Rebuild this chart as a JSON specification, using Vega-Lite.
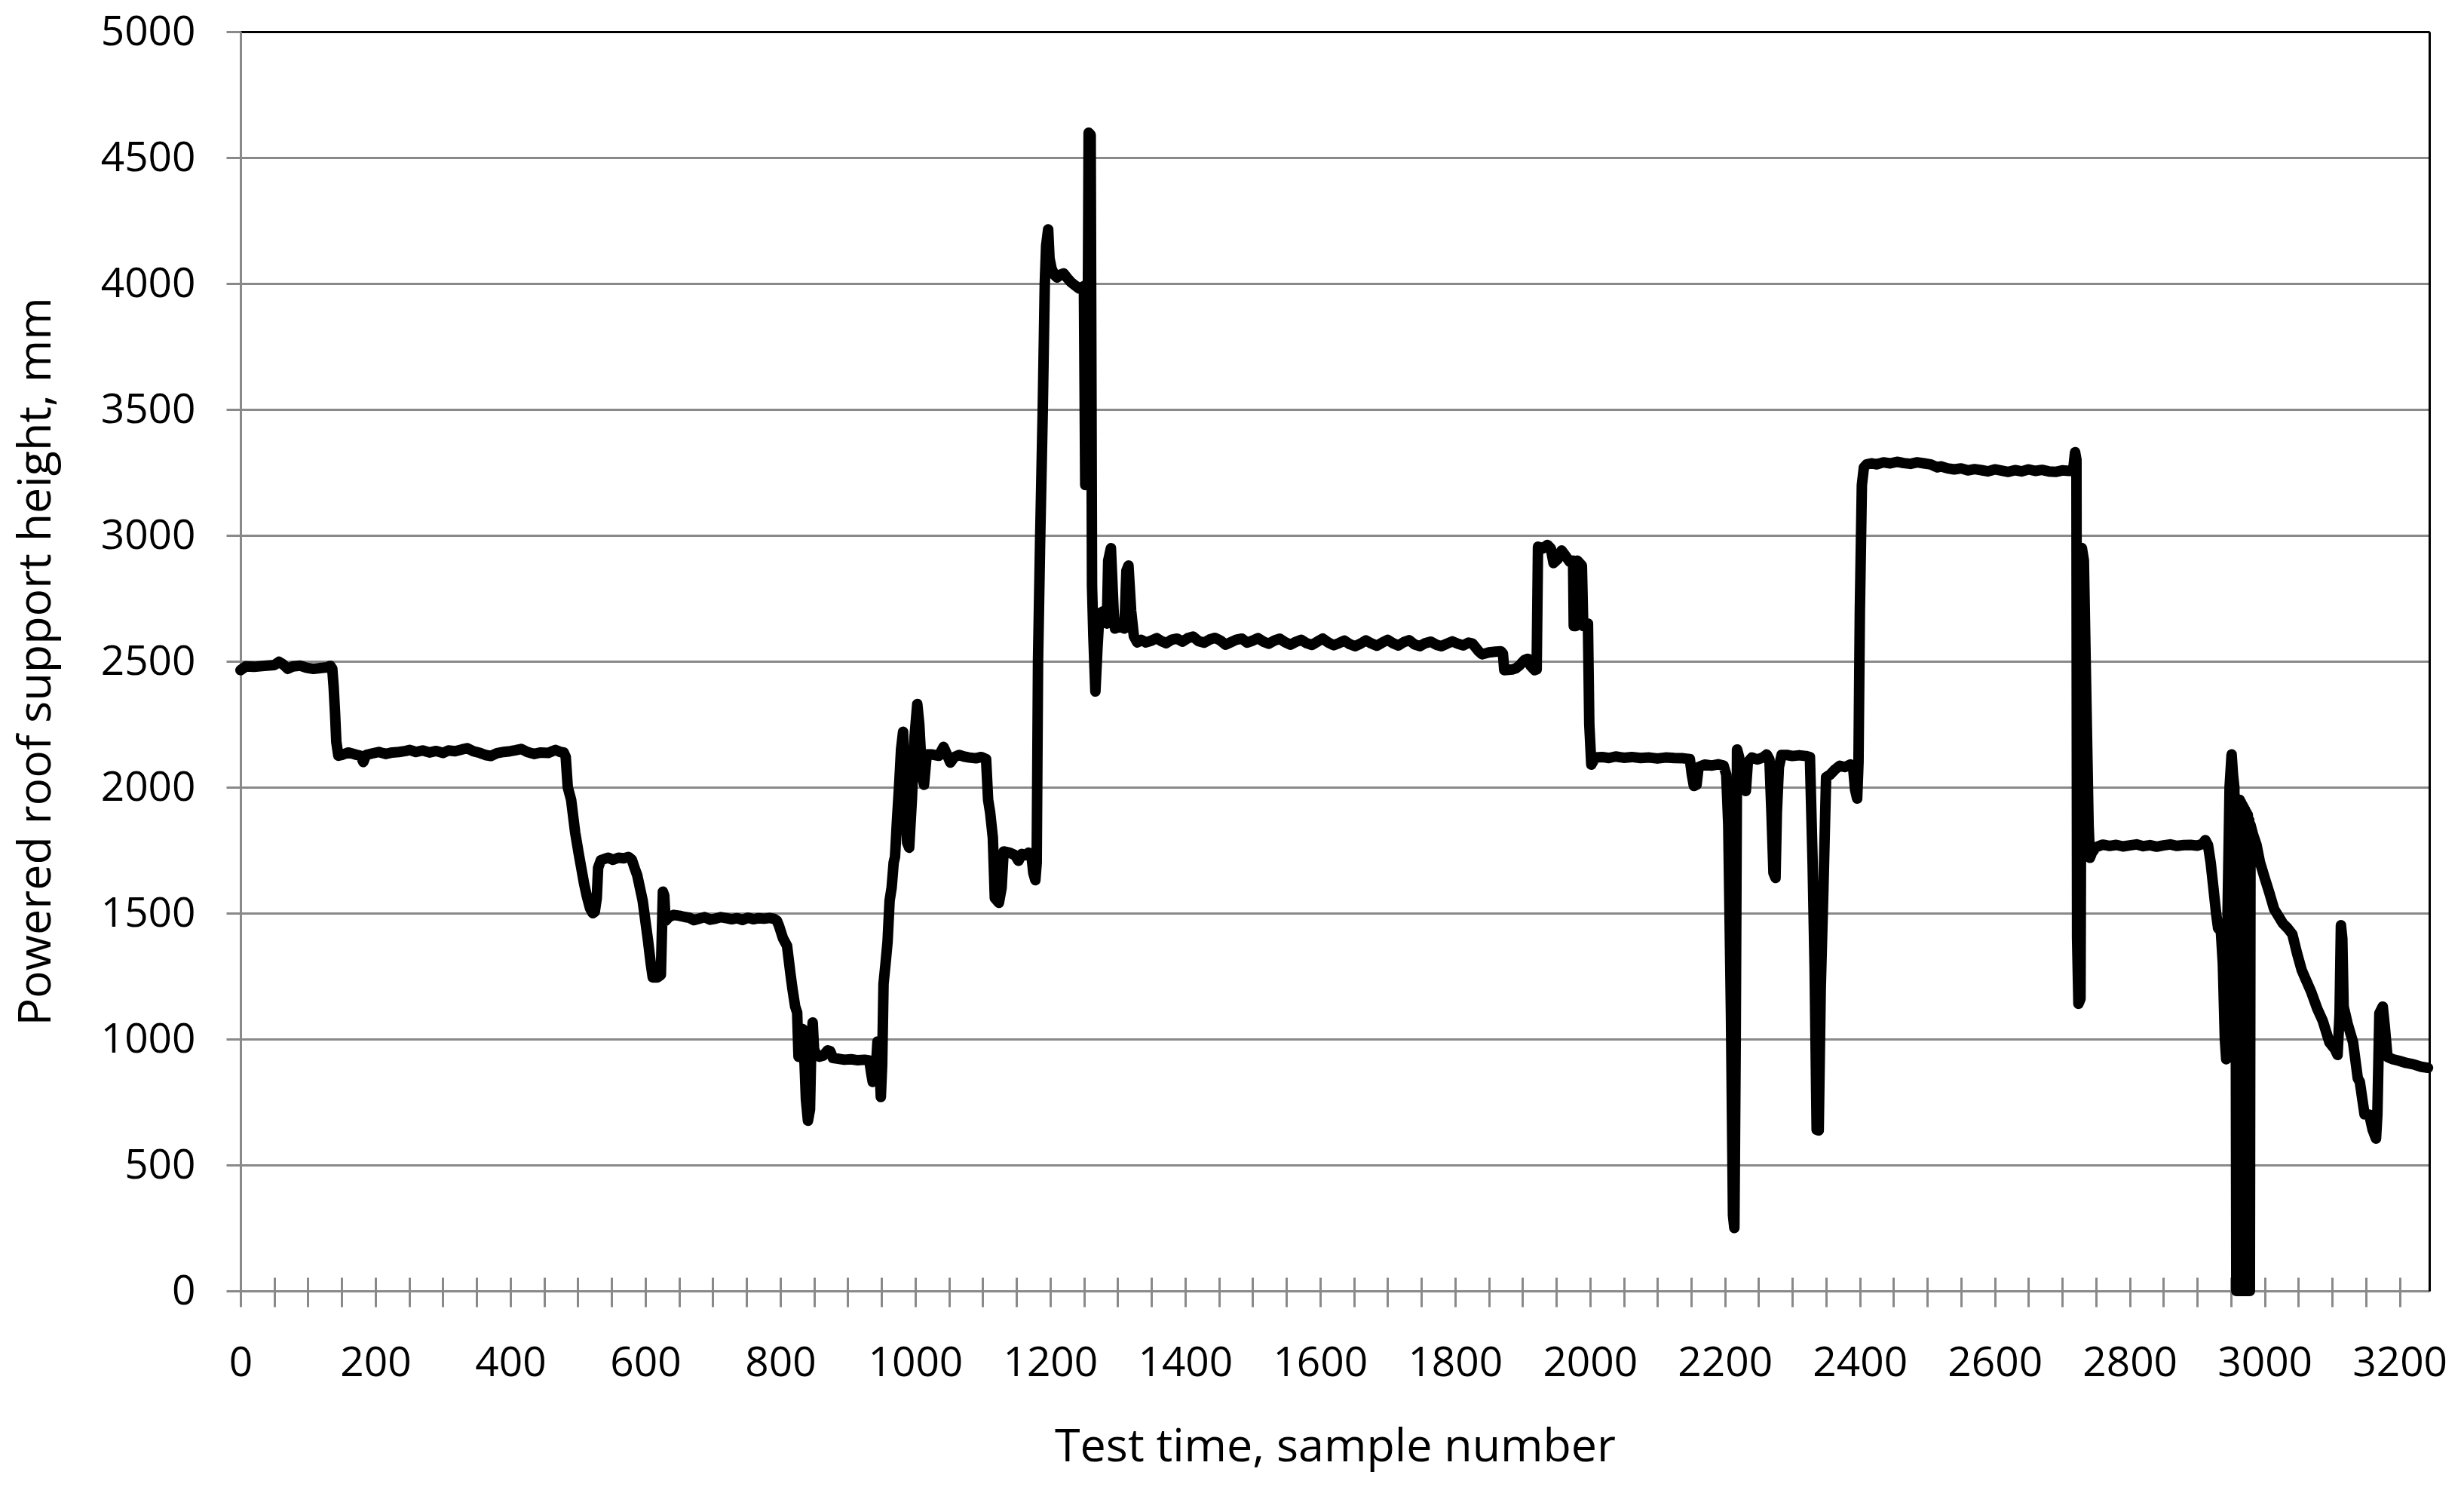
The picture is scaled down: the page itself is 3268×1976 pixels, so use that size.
{
  "$schema": "https://vega.github.io/schema/vega-lite/v6.json",
  "width": 2903,
  "height": 1670,
  "autosize": {"type": "none"},
  "padding": {"left": 319, "top": 42, "right": 46, "bottom": 264},
  "background": "white",
  "config": {"view": {"stroke": null}, "font": "Open Sans"},
  "data": {"values": [
    {"sample":0,"height":2465},{"sample":8,"height":2480},{"sample":20,"height":2478},{"sample":35,"height":2482},{"sample":50,"height":2485},{"sample":57,"height":2498},{"sample":63,"height":2488},{"sample":70,"height":2470},{"sample":78,"height":2480},{"sample":88,"height":2483},{"sample":98,"height":2474},{"sample":108,"height":2470},{"sample":118,"height":2473},{"sample":128,"height":2476},{"sample":133,"height":2482},{"sample":136,"height":2470},{"sample":138,"height":2400},{"sample":140,"height":2300},{"sample":142,"height":2180},{"sample":145,"height":2125},{"sample":150,"height":2128},{"sample":160,"height":2138},{"sample":170,"height":2130},{"sample":178,"height":2125},{"sample":182,"height":2100},{"sample":186,"height":2128},{"sample":195,"height":2134},{"sample":205,"height":2140},{"sample":215,"height":2132},{"sample":225,"height":2138},{"sample":235,"height":2140},{"sample":245,"height":2144},{"sample":251,"height":2148},{"sample":260,"height":2140},{"sample":270,"height":2146},{"sample":280,"height":2138},{"sample":290,"height":2144},{"sample":300,"height":2136},{"sample":308,"height":2146},{"sample":318,"height":2143},{"sample":328,"height":2150},{"sample":336,"height":2155},{"sample":345,"height":2143},{"sample":355,"height":2136},{"sample":363,"height":2128},{"sample":371,"height":2124},{"sample":380,"height":2135},{"sample":390,"height":2140},{"sample":400,"height":2143},{"sample":408,"height":2147},{"sample":416,"height":2152},{"sample":425,"height":2140},{"sample":435,"height":2132},{"sample":445,"height":2138},{"sample":456,"height":2136},{"sample":462,"height":2143},{"sample":467,"height":2148},{"sample":474,"height":2140},{"sample":479,"height":2138},
    {"sample":482,"height":2120},{"sample":485,"height":2000},{"sample":490,"height":1950},{"sample":496,"height":1820},{"sample":501,"height":1740},{"sample":505,"height":1680},{"sample":509,"height":1620},{"sample":513,"height":1570},{"sample":518,"height":1520},{"sample":522,"height":1500},{"sample":525,"height":1505},{"sample":528,"height":1560},{"sample":530,"height":1680},{"sample":534,"height":1710},{"sample":539,"height":1715},{"sample":545,"height":1720},{"sample":552,"height":1712},{"sample":560,"height":1720},{"sample":568,"height":1718},{"sample":575,"height":1723},{"sample":580,"height":1712},{"sample":584,"height":1680},{"sample":588,"height":1650},{"sample":592,"height":1600},{"sample":596,"height":1550},{"sample":600,"height":1470},{"sample":604,"height":1390},{"sample":608,"height":1300},{"sample":611,"height":1245},{"sample":618,"height":1245},{"sample":623,"height":1255},{"sample":626,"height":1585},{"sample":628,"height":1570},{"sample":630,"height":1470},{"sample":635,"height":1485},{"sample":642,"height":1493},{"sample":650,"height":1490},{"sample":658,"height":1485},{"sample":665,"height":1482},{"sample":672,"height":1472},{"sample":680,"height":1478},{"sample":688,"height":1484},{"sample":696,"height":1474},{"sample":704,"height":1478},{"sample":712,"height":1484},{"sample":720,"height":1480},{"sample":728,"height":1476},{"sample":736,"height":1480},{"sample":744,"height":1473},{"sample":752,"height":1482},{"sample":760,"height":1476},{"sample":768,"height":1480},{"sample":776,"height":1478},{"sample":784,"height":1481},{"sample":790,"height":1478},{"sample":795,"height":1470},
    {"sample":798,"height":1450},{"sample":804,"height":1400},{"sample":810,"height":1370},{"sample":815,"height":1260},{"sample":818,"height":1200},{"sample":822,"height":1130},{"sample":825,"height":1105},{"sample":827,"height":930},{"sample":830,"height":1020},{"sample":833,"height":1040},{"sample":836,"height":900},{"sample":838,"height":760},{"sample":841,"height":676},{"sample":844,"height":720},{"sample":846,"height":980},{"sample":848,"height":1066},{"sample":850,"height":960},{"sample":853,"height":940},{"sample":858,"height":930},{"sample":864,"height":935},{"sample":870,"height":955},{"sample":874,"height":952},{"sample":878,"height":925},{"sample":886,"height":922},{"sample":895,"height":918},{"sample":905,"height":920},{"sample":915,"height":916},{"sample":925,"height":918},{"sample":932,"height":915},{"sample":935,"height":860},{"sample":937,"height":830},{"sample":941,"height":850},{"sample":944,"height":990},{"sample":947,"height":900},{"sample":949,"height":770},{"sample":951,"height":900},{"sample":953,"height":1219},{"sample":956,"height":1300},{"sample":959,"height":1387},{"sample":962,"height":1550},{"sample":965,"height":1601},{"sample":968,"height":1700},{"sample":970,"height":1723},{"sample":973,"height":1870},{"sample":976,"height":2000},{"sample":979,"height":2150},{"sample":982,"height":2220},{"sample":985,"height":2000},{"sample":988,"height":1780},{"sample":991,"height":1760},{"sample":995,"height":1950},{"sample":999,"height":2200},{"sample":1003,"height":2330},{"sample":1006,"height":2250},{"sample":1010,"height":2050},{"sample":1013,"height":2010},{"sample":1017,"height":2130},{"sample":1025,"height":2130},{"sample":1035,"height":2125},{"sample":1042,"height":2160},{"sample":1047,"height":2130},{"sample":1052,"height":2098},{"sample":1058,"height":2120},{"sample":1065,"height":2128},{"sample":1072,"height":2122},{"sample":1080,"height":2118},{"sample":1090,"height":2115},{"sample":1098,"height":2120},{"sample":1105,"height":2112},{"sample":1108,"height":1950},{"sample":1111,"height":1900},{"sample":1115,"height":1800},{"sample":1118,"height":1560},{"sample":1124,"height":1541},{"sample":1128,"height":1600},{"sample":1131,"height":1745},{"sample":1140,"height":1740},{"sample":1148,"height":1730},{"sample":1153,"height":1708},{"sample":1158,"height":1735},{"sample":1163,"height":1730},{"sample":1168,"height":1740},{"sample":1172,"height":1735},{"sample":1175,"height":1660},{"sample":1178,"height":1631},{"sample":1180,"height":1700},{"sample":1182,"height":2500},{"sample":1185,"height":2965},{"sample":1189,"height":3500},{"sample":1192,"height":4000},{"sample":1194,"height":4150},{"sample":1197,"height":4215},{"sample":1199,"height":4100},{"sample":1202,"height":4060},{"sample":1206,"height":4035},{"sample":1210,"height":4024},{"sample":1215,"height":4035},{"sample":1220,"height":4040},{"sample":1226,"height":4020},{"sample":1231,"height":4005},{"sample":1237,"height":3992},{"sample":1243,"height":3980},{"sample":1247,"height":3985},{"sample":1250,"height":3990},{"sample":1252,"height":3200},{"sample":1255,"height":3400},{"sample":1257,"height":4599},{"sample":1260,"height":4590},{"sample":1262,"height":2800},{"sample":1264,"height":2600},{"sample":1267,"height":2380},{"sample":1270,"height":2550},{"sample":1273,"height":2690},{"sample":1280,"height":2700},{"sample":1284,"height":2650},{"sample":1286,"height":2900},{"sample":1290,"height":2949},{"sample":1294,"height":2700},{"sample":1296,"height":2630},{"sample":1305,"height":2640},{"sample":1310,"height":2630},{"sample":1313,"height":2860},{"sample":1316,"height":2880},{"sample":1320,"height":2700},{"sample":1324,"height":2600},{"sample":1329,"height":2575},
    {"sample":1335,"height":2585},{"sample":1342,"height":2575},{"sample":1350,"height":2582},{"sample":1358,"height":2592},{"sample":1365,"height":2580},{"sample":1372,"height":2572},{"sample":1380,"height":2586},{"sample":1388,"height":2590},{"sample":1396,"height":2578},{"sample":1404,"height":2592},{"sample":1412,"height":2598},{"sample":1420,"height":2580},{"sample":1428,"height":2574},{"sample":1436,"height":2586},{"sample":1444,"height":2593},{"sample":1452,"height":2583},{"sample":1460,"height":2566},{"sample":1468,"height":2576},{"sample":1476,"height":2586},{"sample":1484,"height":2590},{"sample":1492,"height":2574},{"sample":1500,"height":2582},{"sample":1508,"height":2592},{"sample":1516,"height":2578},{"sample":1524,"height":2570},{"sample":1532,"height":2582},{"sample":1540,"height":2590},{"sample":1548,"height":2576},{"sample":1556,"height":2566},{"sample":1564,"height":2577},{"sample":1572,"height":2585},{"sample":1580,"height":2572},{"sample":1588,"height":2565},{"sample":1596,"height":2578},{"sample":1604,"height":2590},{"sample":1612,"height":2575},{"sample":1620,"height":2564},{"sample":1628,"height":2572},{"sample":1636,"height":2582},{"sample":1644,"height":2568},{"sample":1652,"height":2560},{"sample":1660,"height":2570},{"sample":1668,"height":2583},{"sample":1676,"height":2571},{"sample":1684,"height":2562},{"sample":1692,"height":2574},{"sample":1700,"height":2585},{"sample":1708,"height":2572},{"sample":1716,"height":2563},{"sample":1724,"height":2576},{"sample":1732,"height":2584},{"sample":1740,"height":2567},{"sample":1748,"height":2560},{"sample":1756,"height":2572},{"sample":1764,"height":2578},{"sample":1772,"height":2566},{"sample":1780,"height":2560},{"sample":1788,"height":2570},{"sample":1796,"height":2579},{"sample":1804,"height":2570},{"sample":1812,"height":2563},{"sample":1820,"height":2574},{"sample":1826,"height":2570},{"sample":1835,"height":2540},{"sample":1840,"height":2528},{"sample":1850,"height":2535},{"sample":1860,"height":2538},{"sample":1868,"height":2540},{"sample":1871,"height":2530},{"sample":1873,"height":2465},{"sample":1885,"height":2468},{"sample":1890,"height":2472},{"sample":1895,"height":2482},{"sample":1903,"height":2505},{"sample":1908,"height":2510},{"sample":1912,"height":2482},{"sample":1918,"height":2465},{"sample":1921,"height":2468},{"sample":1923,"height":2955},{"sample":1930,"height":2948},{"sample":1937,"height":2962},{"sample":1942,"height":2948},{"sample":1946,"height":2890},{"sample":1952,"height":2905},{"sample":1958,"height":2940},{"sample":1964,"height":2918},{"sample":1970,"height":2895},{"sample":1975,"height":2900},{"sample":1976,"height":2640},{"sample":1979,"height":2640},{"sample":1981,"height":2900},{"sample":1988,"height":2880},{"sample":1990,"height":2640},{"sample":1997,"height":2650},{"sample":1999,"height":2250},{"sample":2002,"height":2090},
    {"sample":2008,"height":2118},{"sample":2018,"height":2120},{"sample":2028,"height":2116},{"sample":2038,"height":2122},{"sample":2050,"height":2117},{"sample":2062,"height":2120},{"sample":2075,"height":2116},{"sample":2088,"height":2118},{"sample":2100,"height":2114},{"sample":2112,"height":2118},{"sample":2125,"height":2116},{"sample":2138,"height":2115},{"sample":2148,"height":2112},{"sample":2151,"height":2050},{"sample":2154,"height":2005},{"sample":2158,"height":2010},{"sample":2161,"height":2080},{"sample":2170,"height":2090},{"sample":2180,"height":2086},{"sample":2190,"height":2091},{"sample":2198,"height":2086},{"sample":2202,"height":2050},{"sample":2205,"height":1850},{"sample":2209,"height":1100},{"sample":2212,"height":300},{"sample":2214,"height":250},{"sample":2216,"height":1000},{"sample":2218,"height":2150},{"sample":2221,"height":2120},{"sample":2226,"height":2000},{"sample":2231,"height":1985},{"sample":2234,"height":2100},{"sample":2240,"height":2118},{"sample":2248,"height":2110},{"sample":2256,"height":2118},{"sample":2262,"height":2130},{"sample":2266,"height":2110},{"sample":2269,"height":1900},{"sample":2272,"height":1660},{"sample":2275,"height":1640},{"sample":2277,"height":1900},{"sample":2280,"height":2080},{"sample":2284,"height":2128},{"sample":2292,"height":2128},{"sample":2300,"height":2124},{"sample":2310,"height":2127},{"sample":2320,"height":2124},{"sample":2326,"height":2120},{"sample":2330,"height":1700},{"sample":2333,"height":1280},{"sample":2336,"height":640},{"sample":2339,"height":637},{"sample":2342,"height":1200},{"sample":2346,"height":1600},{"sample":2350,"height":2040},{"sample":2356,"height":2050},{"sample":2363,"height":2070},{"sample":2370,"height":2085},{"sample":2378,"height":2080},{"sample":2386,"height":2090},{"sample":2390,"height":2080},{"sample":2393,"height":1990},{"sample":2396,"height":1955},{"sample":2398,"height":2100},{"sample":2400,"height":2700},{"sample":2403,"height":3200},{"sample":2406,"height":3270},
    {"sample":2410,"height":3282},{"sample":2418,"height":3286},{"sample":2425,"height":3282},{"sample":2435,"height":3290},{"sample":2445,"height":3286},{"sample":2455,"height":3292},{"sample":2465,"height":3287},{"sample":2475,"height":3284},{"sample":2485,"height":3290},{"sample":2495,"height":3286},{"sample":2505,"height":3282},{"sample":2515,"height":3270},{"sample":2520,"height":3274},{"sample":2530,"height":3266},{"sample":2540,"height":3262},{"sample":2550,"height":3266},{"sample":2560,"height":3258},{"sample":2570,"height":3263},{"sample":2580,"height":3259},{"sample":2590,"height":3254},{"sample":2600,"height":3262},{"sample":2610,"height":3257},{"sample":2620,"height":3252},{"sample":2630,"height":3259},{"sample":2640,"height":3254},{"sample":2650,"height":3262},{"sample":2660,"height":3256},{"sample":2670,"height":3260},{"sample":2680,"height":3254},{"sample":2690,"height":3252},{"sample":2700,"height":3258},{"sample":2710,"height":3256},{"sample":2716,"height":3256},{"sample":2719,"height":3330},{"sample":2721,"height":3300},{"sample":2722,"height":1400},{"sample":2724,"height":1140},{"sample":2727,"height":1160},{"sample":2729,"height":2950},{"sample":2732,"height":2900},{"sample":2736,"height":2300},{"sample":2739,"height":1850},{"sample":2741,"height":1720},{"sample":2744,"height":1740},{"sample":2750,"height":1762},{"sample":2760,"height":1772},{"sample":2770,"height":1767},{"sample":2780,"height":1771},{"sample":2790,"height":1765},{"sample":2800,"height":1769},{"sample":2810,"height":1773},{"sample":2820,"height":1766},{"sample":2830,"height":1770},{"sample":2840,"height":1764},{"sample":2850,"height":1769},{"sample":2860,"height":1773},{"sample":2870,"height":1767},{"sample":2880,"height":1770},{"sample":2890,"height":1771},{"sample":2900,"height":1768},{"sample":2908,"height":1775},{"sample":2912,"height":1790},{"sample":2916,"height":1770},{"sample":2920,"height":1700},{"sample":2924,"height":1600},{"sample":2928,"height":1500},{"sample":2931,"height":1440},{"sample":2935,"height":1430},{"sample":2938,"height":1300},{"sample":2941,"height":1000},{"sample":2943,"height":920},{"sample":2945,"height":1500},{"sample":2948,"height":2000},{"sample":2951,"height":2130},{"sample":2953,"height":2050},{"sample":2955,"height":2000},{"sample":2957,"height":1400},{"sample":2958,"height":0},{"sample":2959,"height":1950},{"sample":2960,"height":0},{"sample":2961,"height":1950},{"sample":2962,"height":0},{"sample":2963,"height":1950},{"sample":2964,"height":0},{"sample":2965,"height":1940},{"sample":2966,"height":0},{"sample":2967,"height":1930},{"sample":2968,"height":0},{"sample":2969,"height":1920},{"sample":2970,"height":0},{"sample":2971,"height":1910},{"sample":2972,"height":0},{"sample":2973,"height":1900},{"sample":2974,"height":0},{"sample":2975,"height":1890},{"sample":2976,"height":0},{"sample":2977,"height":1870},{"sample":2978,"height":0},{"sample":2979,"height":1850},{"sample":2980,"height":1840},{"sample":2983,"height":1810},{"sample":2988,"height":1770},{"sample":2993,"height":1702},{"sample":3000,"height":1640},{"sample":3007,"height":1580},{"sample":3014,"height":1516},{"sample":3020,"height":1490},{"sample":3027,"height":1459},{"sample":3034,"height":1440},{"sample":3041,"height":1416},{"sample":3048,"height":1340},{"sample":3055,"height":1273},{"sample":3062,"height":1230},{"sample":3069,"height":1187},{"sample":3078,"height":1120},{"sample":3086,"height":1073},{"sample":3096,"height":987},{"sample":3104,"height":960},{"sample":3108,"height":937},{"sample":3111,"height":1100},{"sample":3113,"height":1452},{"sample":3115,"height":1400},{"sample":3117,"height":1129},{"sample":3123,"height":1060},{"sample":3131,"height":987},{"sample":3138,"height":844},{"sample":3141,"height":830},{"sample":3148,"height":701},{"sample":3155,"height":700},{"sample":3160,"height":640},{"sample":3165,"height":605},{"sample":3167,"height":700},{"sample":3170,"height":1102},{"sample":3175,"height":1129},{"sample":3178,"height":1050},{"sample":3182,"height":929},{"sample":3190,"height":920},{"sample":3199,"height":914},{"sample":3210,"height":905},{"sample":3220,"height":900},{"sample":3232,"height":890},{"sample":3242,"height":886}
  ]},
  "layer": [
    {
      "mark": {"type": "line", "color": "black", "strokeWidth": 14, "strokeJoin": "round", "strokeCap": "round"},
      "encoding": {
        "x": {
          "field": "sample", "type": "quantitative",
          "scale": {"domain": [0, 3244], "nice": false, "zero": false},
          "axis": {
            "title": "Test time, sample number",
            "values": [0,50,100,150,200,250,300,350,400,450,500,550,600,650,700,750,800,850,900,950,1000,1050,1100,1150,1200,1250,1300,1350,1400,1450,1500,1550,1600,1650,1700,1750,1800,1850,1900,1950,2000,2050,2100,2150,2200,2250,2300,2350,2400,2450,2500,2550,2600,2650,2700,2750,2800,2850,2900,2950,3000,3050,3100,3150,3200],
            "format": "d",
            "labelExpr": "datum.value % 200 === 0 ? datum.label : ''",
            "grid": false,
            "domainColor": "#898989", "domainWidth": 3,
            "tickColor": "#898989", "tickWidth": 3, "tickSize": 21,
            "labelFontSize": 55, "labelColor": "black", "labelPadding": 48,
            "labelFlush": false, "labelOverlap": false,
            "titleFontSize": 61, "titleFontWeight": "normal", "titleColor": "black",
            "titleBaseline": "alphabetic", "titleY": 225,
            "encoding": {"ticks": {"y": {"value": -18}, "y2": {"value": 21}}}
          }
        },
        "y": {
          "field": "height", "type": "quantitative",
          "scale": {"domain": [0, 5000], "nice": false},
          "axis": {
            "title": "Powered roof support  height, mm",
            "values": [0,500,1000,1500,2000,2500,3000,3500,4000,4500,5000],
            "format": "d",
            "grid": true, "gridColor": "#898989", "gridWidth": 3,
            "domainColor": "#898989", "domainWidth": 3,
            "tickColor": "#898989", "tickWidth": 3, "tickSize": 19,
            "labelFontSize": 55, "labelColor": "black", "labelPadding": 41,
            "labelFlush": false, "labelOverlap": false,
            "titleFontSize": 61, "titleFontWeight": "normal", "titleColor": "black",
            "titleBaseline": "alphabetic", "titleX": -253
          }
        }
      }
    },
    {
      "transform": [{"filter": "false"}],
      "mark": {"type": "point"},
      "encoding": {
        "x": {"field": "sample", "type": "quantitative", "axis": {"orient": "top", "domainColor": "black", "domainWidth": 3, "ticks": false, "labels": false, "grid": false, "title": null}},
        "y": {"field": "height", "type": "quantitative", "axis": {"orient": "right", "domainColor": "black", "domainWidth": 3, "ticks": false, "labels": false, "grid": false, "title": null}}
      }
    }
  ],
  "resolve": {"axis": {"x": "independent", "y": "independent"}}
}
